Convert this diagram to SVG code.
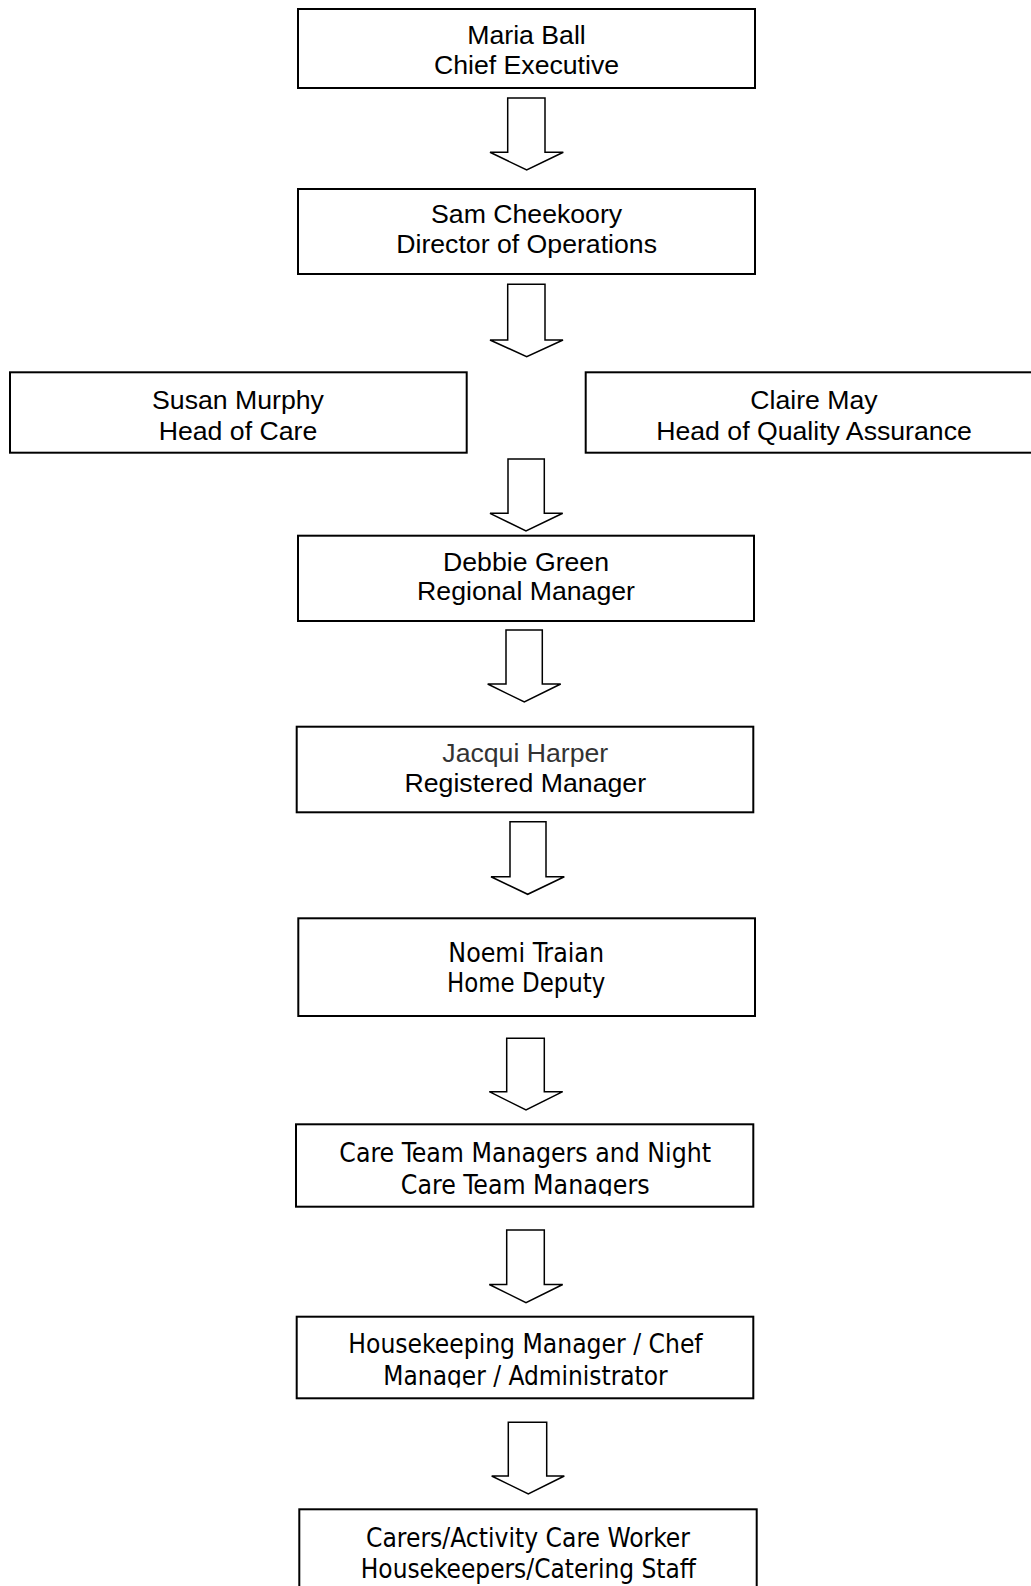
<svg xmlns="http://www.w3.org/2000/svg" width="1031" height="1586" viewBox="0 0 1031 1586">
<style>
.box{fill:#fff;stroke:#000;stroke-width:2}
.arr{fill:#fff;stroke:#000;stroke-width:1.5;stroke-linejoin:miter}
.a{font-family:"Liberation Sans",Arial,sans-serif;font-size:26.67px;fill:#000;text-anchor:middle}
.t{font-family:"DejaVu Sans Condensed","DejaVu Sans",sans-serif;font-size:26.67px;fill:#000;text-anchor:middle}
.g{fill:#333}
</style>
<defs>
<clipPath id="clipCare"><rect x="296" y="1124" width="458" height="72"/></clipPath>
<clipPath id="clipHouse"><rect x="296" y="1316" width="458" height="71.5"/></clipPath>
</defs>
<rect width="1031" height="1586" fill="#fff"/>
<g id="connectors">
<polygon class="arr" points="507.7,98 545,98 545,152.3 563.3,152.3 526.7,170 490,152.3 507.7,152.3"/>
<polygon class="arr" points="507.7,284.3 545,284.3 545,340 563,340 526.7,356.7 490,340 507.7,340"/>
<polygon class="arr" points="508,459 544.3,459 544.3,513.3 562.7,513.3 526,531 490,513.3 508,513.3"/>
<polygon class="arr" points="506,630 542.3,630 542.3,684 560.7,684 524.3,702 487.7,684 506,684"/>
<polygon class="arr" points="510,821.7 546,821.7 546,876.7 564.3,876.7 527.7,894.3 491,876.7 510,876.7"/>
<polygon class="arr" points="506.7,1038.3 544.3,1038.3 544.3,1091.7 562.7,1091.7 526,1110 489.3,1091.7 506.7,1091.7"/>
<polygon class="arr" points="506.7,1230 544.3,1230 544.3,1284.5 562.7,1284.5 526,1302.7 489.3,1284.5 506.7,1284.5"/>
<polygon class="arr" points="508.3,1422.3 546.7,1422.3 546.7,1476 564.3,1476 528.3,1494 491.7,1476 508.3,1476"/>
</g>
<g id="n-maria">
<rect class="box" x="298" y="9" width="457" height="79"/>
<text class="a" x="526.5" y="44.3">Maria Ball</text>
<text class="a" x="526.5" y="74">Chief Executive</text>
</g>
<g id="n-sam">
<rect class="box" x="298" y="189" width="457" height="85"/>
<text class="a" x="526.6" y="222.7">Sam Cheekoory</text>
<text class="a" x="526.6" y="253.3">Director of Operations</text>
</g>
<g id="n-susan">
<rect class="box" x="10" y="372.3" width="456.7" height="80.4"/>
<text class="a" x="238" y="409">Susan Murphy</text>
<text class="a" x="238" y="440">Head of Care</text>
</g>
<g id="n-claire">
<rect class="box" x="585.7" y="372.3" width="456.7" height="80.4"/>
<text class="a" x="814" y="409">Claire May</text>
<text class="a" x="814" y="440">Head of Quality Assurance</text>
</g>
<g id="n-debbie">
<rect class="box" x="298" y="535.7" width="456" height="85.3"/>
<text class="a" x="526" y="570.5">Debbie Green</text>
<text class="a" x="526" y="600">Regional Manager</text>
</g>
<g id="n-jacqui">
<rect class="box" x="296.7" y="726.7" width="456.6" height="85.6"/>
<text class="a g" x="525.3" y="761.7">Jacqui Harper</text>
<text class="a" x="525.3" y="792.3">Registered Manager</text>
</g>
<g id="n-noemi">
<rect class="box" x="298.3" y="918.3" width="456.7" height="97.7"/>
<text class="t" x="526.2" y="961.7" textLength="155.7" lengthAdjust="spacingAndGlyphs">Noemi Traian</text>
<text class="t" x="526.2" y="992.3" textLength="158.3" lengthAdjust="spacingAndGlyphs">Home Deputy</text>
</g>
<g id="n-careteam">
<rect class="box" x="296" y="1124.3" width="457.3" height="82.4"/>
<g clip-path="url(#clipCare)">
<text class="t" x="525.2" y="1161.7" textLength="371.7" lengthAdjust="spacingAndGlyphs">Care Team Managers and Night</text>
<text class="t" x="525.2" y="1194" textLength="248.7" lengthAdjust="spacingAndGlyphs">Care Team Managers</text>
</g>
</g>
<g id="n-housekeeping">
<rect class="box" x="296.7" y="1316.7" width="456.6" height="81.6"/>
<g clip-path="url(#clipHouse)">
<text class="t" x="525.5" y="1353.3" textLength="354.3" lengthAdjust="spacingAndGlyphs">Housekeeping Manager / Chef</text>
<text class="t" x="525.5" y="1385" textLength="284.3" lengthAdjust="spacingAndGlyphs">Manager / Administrator</text>
</g>
</g>
<g id="n-carers">
<rect class="box" x="299.3" y="1509.3" width="457.4" height="100"/>
<text class="t" x="528" y="1546.7" textLength="324" lengthAdjust="spacingAndGlyphs">Carers/Activity Care Worker</text>
<text class="t" x="528.3" y="1578.3" textLength="335" lengthAdjust="spacingAndGlyphs">Housekeepers/Catering Staff</text>
</g>
</svg>
